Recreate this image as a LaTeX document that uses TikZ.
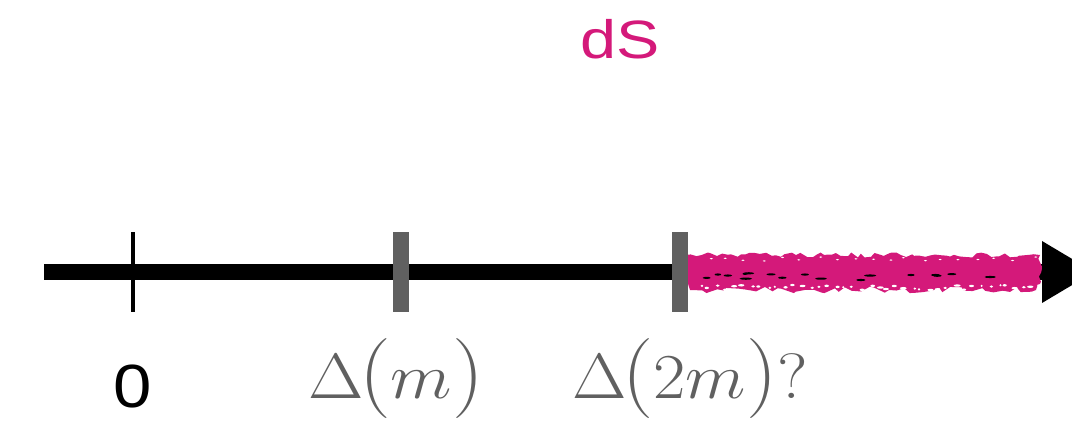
\RequirePackage{fix-cm}
\documentclass[tikz,border=0pt]{standalone}
\usepackage{graphicx}
\usepackage{fontspec}
\newfontfamily\helv{Liberation Sans}
\usetikzlibrary{decorations.pathmorphing}
\definecolor{tgray}{HTML}{606060}
\definecolor{dspink}{HTML}{D4197A}
\newcommand{\lpar}{\kern-4pt\mbox{\fontsize{80}{80}\selectfont(}}
\newcommand{\rpar}{\mbox{\fontsize{80}{80}\selectfont)}}
\tikzset{
  axisline/.style={line width=16pt, black},
  tickzero/.style={rectangle, fill=black, inner sep=0pt, minimum width=4pt, minimum height=80pt},
  tickgray/.style={rectangle, fill=tgray, inner sep=0pt, minimum width=16pt, minimum height=80pt},
  sanslabel/.style={anchor=base, inner sep=0pt, font=\helv\fontsize{61}{61}\selectfont},
  mathlabel/.style={anchor=base, inner sep=0pt, text=tgray, font=\fontsize{64}{64}\selectfont},
  dslabel/.style={anchor=base, inner sep=0pt, text=dspink, font=\helv\fontsize{54}{54}\selectfont},
  band/.style={fill=dspink, decorate, decoration={random steps, segment length=5pt, amplitude=2.5pt}},
}
\begin{document}
\begin{tikzpicture}[x=1pt, y=-1pt]
\useasboundingbox (0,0) rectangle (1072,422);
\clip (0,0) rectangle (1072,422);
% axis
\coordinate (start) at (44,272);
\coordinate (end) at (1042,272);
\draw[axisline] (start) -- (end);
% rough pink band
\pgfmathsetseed{7}
\fill[band] (686,255) -- (1040,255) -- (1040,284) -- (686,284) -- cycle;
\fill[band, decoration={random steps, segment length=7pt, amplitude=3.5pt}] (690,264) -- (1036,264) -- (1036,290) -- (690,290) -- cycle;
\foreach \i in {0,...,40} {
  \pgfmathsetmacro{\xx}{698+\i*8.5+rnd*5}
  \pgfmathsetmacro{\yy}{285+rnd*5}
  \pgfmathsetmacro{\rx}{1+rnd*2.5}
  \fill[white] (\xx,\yy) ellipse (\rx pt and 1.2pt);
}
\foreach \i in {0,...,16} {
  \pgfmathsetmacro{\xx}{700+rnd*330}
  \pgfmathsetmacro{\yy}{272+rnd*8}
  \pgfmathsetmacro{\rx}{1.5+rnd*5}
  \fill[black] (\xx,\yy) ellipse (\rx pt and 1.1pt);
}
\foreach \i in {0,...,18} {
  \pgfmathsetmacro{\xx}{705+\i*18+rnd*8}
  \pgfmathsetmacro{\yy}{257+rnd*4}
  \fill[white] (\xx,\yy) ellipse (1.6 and 0.7);
}
% arrow head
\fill[black] (1042,241) -- (1094,272) -- (1042,303) -- cycle;
% ticks
\node[tickzero] (t0) at (133,272) {};
\node[tickgray] (t1) at (401,272) {};
\node[tickgray] (t2) at (680,272) {};
% labels
\node[sanslabel] (l0) at (133,407) {\scalebox{1.13}[1]{0}};
\node[mathlabel] (l1) at (396,398) {\scalebox{1.12}[1]{$\Delta\lpar m\rpar$}};
\node[mathlabel] (l2) at (690,398) {\scalebox{1.1}[1]{$\Delta\lpar 2m\rpar?$}};
\node[dslabel] (ds) at (620,59) {\scalebox{1.2}[1]{dS}};
\end{tikzpicture}
\end{document}
